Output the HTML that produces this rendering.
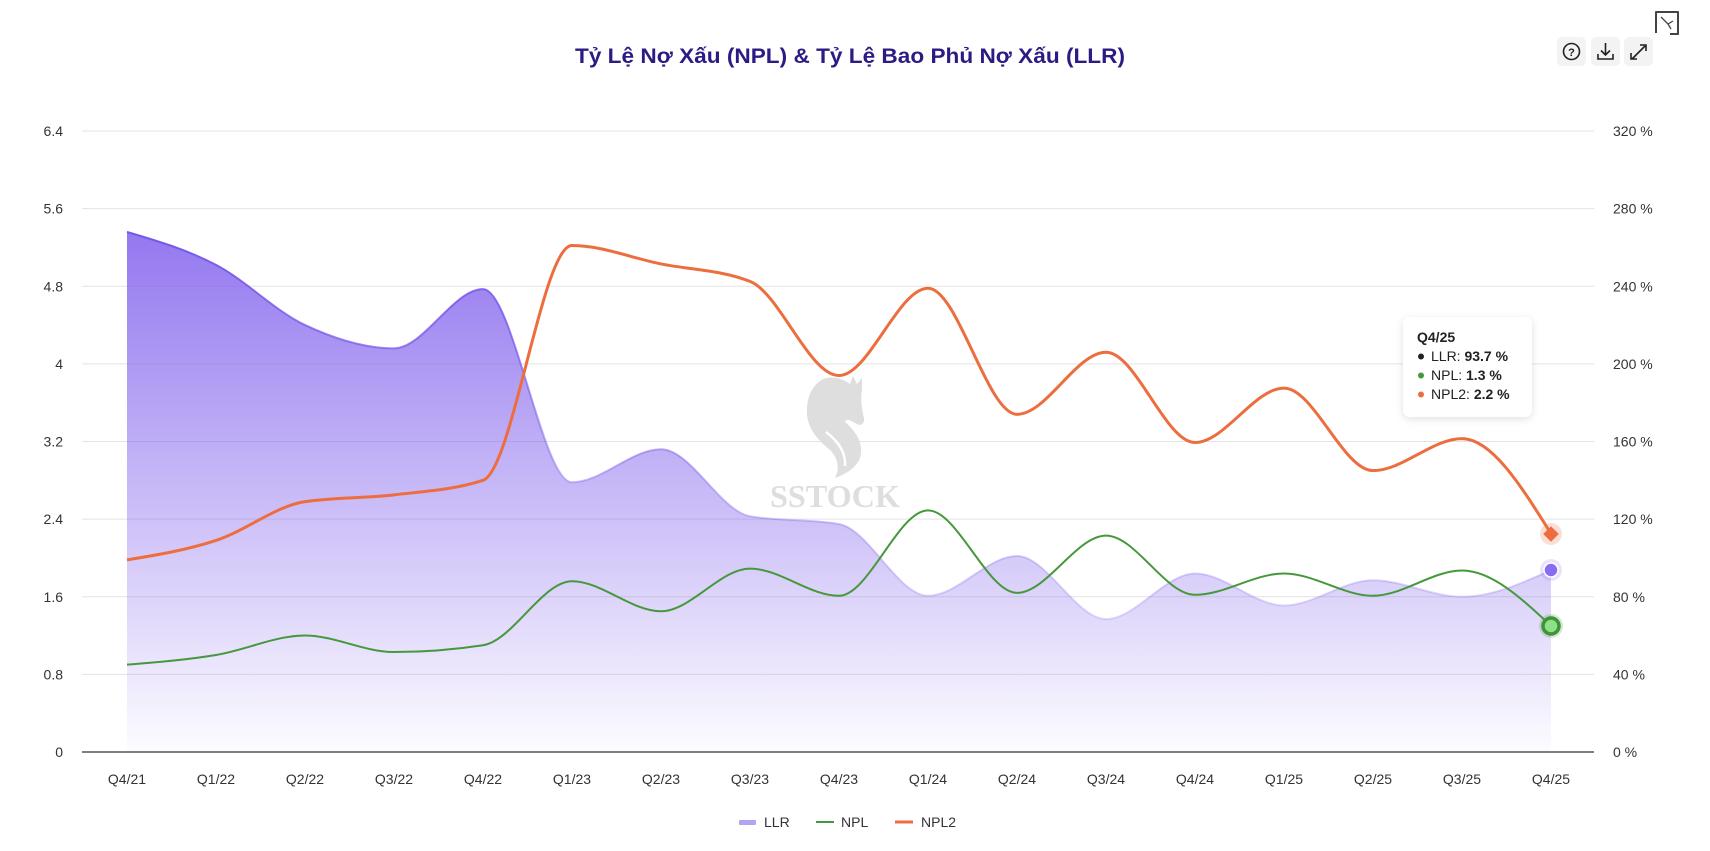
<!DOCTYPE html>
<html><head><meta charset="utf-8">
<style>
html,body{margin:0;padding:0;background:#fff;}
body{width:1710px;height:846px;overflow:hidden;font-family:"Liberation Sans","DejaVu Sans",sans-serif;}
svg text{font-family:"Liberation Sans","DejaVu Sans",sans-serif;}
</style></head>
<body>
<svg id="c" width="1710" height="846" viewBox="0 0 1710 846" xmlns="http://www.w3.org/2000/svg">
<defs>
<linearGradient id="gf" gradientUnits="userSpaceOnUse" x1="0" y1="232" x2="0" y2="752">
<stop offset="0" stop-color="rgb(124,90,236)" stop-opacity="0.82"/>
<stop offset="0.5" stop-color="rgb(124,90,236)" stop-opacity="0.42"/>
<stop offset="1" stop-color="rgb(124,90,236)" stop-opacity="0.02"/>
</linearGradient>
<linearGradient id="gs" gradientUnits="userSpaceOnUse" x1="0" y1="232" x2="0" y2="752">
<stop offset="0" stop-color="rgb(118,86,232)" stop-opacity="1"/>
<stop offset="0.5" stop-color="rgb(118,86,232)" stop-opacity="0.35"/>
<stop offset="1" stop-color="rgb(118,86,232)" stop-opacity="0.05"/>
</linearGradient>
<filter id="sh" x="-20%" y="-20%" width="140%" height="150%">
<feDropShadow dx="0" dy="2" stdDeviation="4" flood-color="#000" flood-opacity="0.12"/>
</filter>
</defs>

<!-- title -->
<text x="850" y="63" text-anchor="middle" font-size="21" font-weight="bold" fill="#2b1c84" textLength="550" lengthAdjust="spacingAndGlyphs">Tỷ Lệ Nợ Xấu (NPL) &amp; Tỷ Lệ Bao Phủ Nợ Xấu (LLR)</text>

<!-- toolbar icons -->
<rect x="1557" y="37" width="29" height="29" rx="5" fill="#f3f3f3"/>
<circle cx="1571.5" cy="51.5" r="8" fill="none" stroke="#222" stroke-width="1.6"/>
<text x="1571.5" y="56" text-anchor="middle" font-size="11" font-weight="bold" fill="#222">?</text>
<rect x="1591" y="37" width="29" height="29" rx="5" fill="#f3f3f3"/>
<path d="M1605.5 43 V55 M1601 50.5 L1605.5 55 L1610 50.5 M1598 54 V59 H1613 V54" fill="none" stroke="#222" stroke-width="1.6"/>
<rect x="1624" y="37" width="29" height="29" rx="5" fill="#f3f3f3"/>
<path d="M1632 59 L1645 46 M1640 45 H1646 V51 M1631 53 V59 H1637" fill="none" stroke="#222" stroke-width="1.6"/>
<path d="M1656 33 V12 H1678 V34 H1670" fill="none" stroke="#444" stroke-width="2" stroke-linejoin="round"/>
<path d="M1661 17 L1668 24 M1668 24 L1673 21 M1668 24 L1671 29" fill="none" stroke="#444" stroke-width="1.3"/>

<g id="grid"></g>
<g id="labels" font-size="14" fill="#333"></g>

<!-- watermark -->
<g fill="#dedede">
<path d="M826 378 C836 376 845 380 850 384 L853 376 L857 384 L862 378 L862 390 C860 398 862 410 864 418 C865 424 860 427 855 423 C850 420 846 418 845 422 C857 432 864 445 860 458 C856 468 846 474 835 478 C840 468 838 458 830 450 C815 438 806 425 807 410 C807 395 814 382 826 378 Z"/>
<path d="M826 432 C838 441 846 452 845 466" fill="none" stroke="#fff" stroke-width="2.5"/>
<text x="770" y="507" font-size="32" font-weight="bold" textLength="130" lengthAdjust="spacingAndGlyphs" style="font-family:'Liberation Serif',serif">SSTOCK</text>
</g>

<g id="series"></g>

<!-- markers -->
<circle cx="1551" cy="534" r="11" fill="#ec6e3f" fill-opacity="0.22"/>
<rect x="1545.5" y="528.5" width="11" height="11" fill="#ec6e3f" transform="rotate(45 1551 534)"/>
<circle cx="1551" cy="570" r="11" fill="#9b82f0" fill-opacity="0.22"/>
<circle cx="1551" cy="570" r="7" fill="#8a6cf0" stroke="#fff" stroke-width="1.5"/>
<circle cx="1551" cy="626" r="12" fill="#46983c" fill-opacity="0.22"/>
<circle cx="1551" cy="626" r="8" fill="#8fe08a" stroke="#3d9535" stroke-width="3.5"/>

<!-- tooltip -->
<rect x="1403" y="317" width="129" height="100" rx="7" fill="#fff" filter="url(#sh)"/>
<text x="1417" y="342" font-size="14" font-weight="bold" fill="#222">Q4/25</text>
<circle cx="1421" cy="356.5" r="3" fill="#222"/>
<text x="1431" y="361" font-size="14" fill="#222">LLR: <tspan font-weight="bold">93.7 %</tspan></text>
<circle cx="1421" cy="375.5" r="3" fill="#46983c"/>
<text x="1431" y="380" font-size="14" fill="#222">NPL: <tspan font-weight="bold">1.3 %</tspan></text>
<circle cx="1421" cy="394.5" r="3" fill="#ec6e3f"/>
<text x="1431" y="399" font-size="14" fill="#222">NPL2: <tspan font-weight="bold">2.2 %</tspan></text>

<!-- legend -->
<rect x="739" y="820" width="17" height="5" rx="1" fill="#b3a3f3"/>
<text x="764" y="827" font-size="14" fill="#333">LLR</text>
<line x1="816" y1="822" x2="834" y2="822" stroke="#46983c" stroke-width="2"/>
<text x="841" y="827" font-size="14" fill="#333">NPL</text>
<line x1="895" y1="822" x2="913" y2="822" stroke="#ec6e3f" stroke-width="3"/>
<text x="921" y="827" font-size="14" fill="#333">NPL2</text>
</svg>
<script>
(function(){
var NS="http://www.w3.org/2000/svg";
function el(n,a,p,t){var e=document.createElementNS(NS,n);for(var k in a)e.setAttribute(k,a[k]);if(t!==undefined)e.textContent=t;p.appendChild(e);return e;}
var grid=document.getElementById('grid'),labels=document.getElementById('labels'),series=document.getElementById('series');
var y0=752,ppu=621/6.4;
var L=['0','0.8','1.6','2.4','3.2','4','4.8','5.6','6.4'];
for(var k=0;k<=8;k++){
  var y=y0-k*621/8;
  if(k>0) el('line',{x1:82,y1:y,x2:1594,y2:y,stroke:'#e3e3e3','stroke-width':1},grid);
  el('text',{x:63,y:y+5,'text-anchor':'end'},labels,L[k]);
  el('text',{x:1613,y:y+5},labels,(k*40)+' %');
}
var X=['Q4/21','Q1/22','Q2/22','Q3/22','Q4/22','Q1/23','Q2/23','Q3/23','Q4/23','Q1/24','Q2/24','Q3/24','Q4/24','Q1/25','Q2/25','Q3/25','Q4/25'];
function xi(i){return 127+89*i;}
for(var i=0;i<X.length;i++) el('text',{x:xi(i),y:784,'text-anchor':'middle'},labels,X[i]);

var LLR=[5.36,5.02,4.40,4.16,4.77,2.78,3.12,2.43,2.35,1.61,2.02,1.37,1.84,1.51,1.77,1.60,1.874];
var NPL=[0.90,1.00,1.20,1.03,1.10,1.76,1.45,1.89,1.61,2.49,1.64,2.23,1.62,1.84,1.61,1.87,1.30];
var NPL2=[1.98,2.18,2.58,2.65,2.80,5.22,5.03,4.85,3.88,4.78,3.48,4.12,3.19,3.75,2.90,3.23,2.25];

function sign(v){return v<0?-1:1;}
function mono(vals){
  var n=vals.length,xs=[],ys=[];
  for(var i=0;i<n;i++){xs.push(xi(i));ys.push(y0-vals[i]*ppu);}
  var m=new Array(n);
  for(var i=1;i<n-1;i++){
    var h0=xs[i]-xs[i-1],h1=xs[i+1]-xs[i];
    var s0=(ys[i]-ys[i-1])/h0,s1=(ys[i+1]-ys[i])/h1;
    var p=(s0*h1+s1*h0)/(h0+h1);
    m[i]=(sign(s0)+sign(s1))*Math.min(Math.abs(s0),Math.abs(s1),0.5*Math.abs(p))||0;
  }
  var h=xs[1]-xs[0];
  m[0]=(3*(ys[1]-ys[0])/h-m[1])/2;
  h=xs[n-1]-xs[n-2];
  m[n-1]=(3*(ys[n-1]-ys[n-2])/h-m[n-2])/2;
  var d='M'+xs[0]+' '+ys[0].toFixed(2);
  for(var i=0;i<n-1;i++){
    var dx=(xs[i+1]-xs[i])/3;
    d+=' C'+(xs[i]+dx).toFixed(2)+' '+(ys[i]+m[i]*dx).toFixed(2)+' '+(xs[i+1]-dx).toFixed(2)+' '+(ys[i+1]-m[i+1]*dx).toFixed(2)+' '+xs[i+1]+' '+ys[i+1].toFixed(2);
  }
  return d;
}
var dl=mono(LLR);
el('path',{d:dl+' L'+xi(16)+' '+y0+' L'+xi(0)+' '+y0+' Z',fill:'url(#gf)'},series);
el('line',{x1:82,y1:y0,x2:1594,y2:y0,stroke:'#333','stroke-width':1.2},series);
el('path',{d:dl,fill:'none',stroke:'url(#gs)','stroke-width':2},series);
el('path',{d:mono(NPL),fill:'none',stroke:'#46983c','stroke-width':2,'stroke-linejoin':'round'},series);
el('path',{d:mono(NPL2),fill:'none',stroke:'#ec6e3f','stroke-width':3,'stroke-linejoin':'round'},series);
})();
</script>
</body></html>
